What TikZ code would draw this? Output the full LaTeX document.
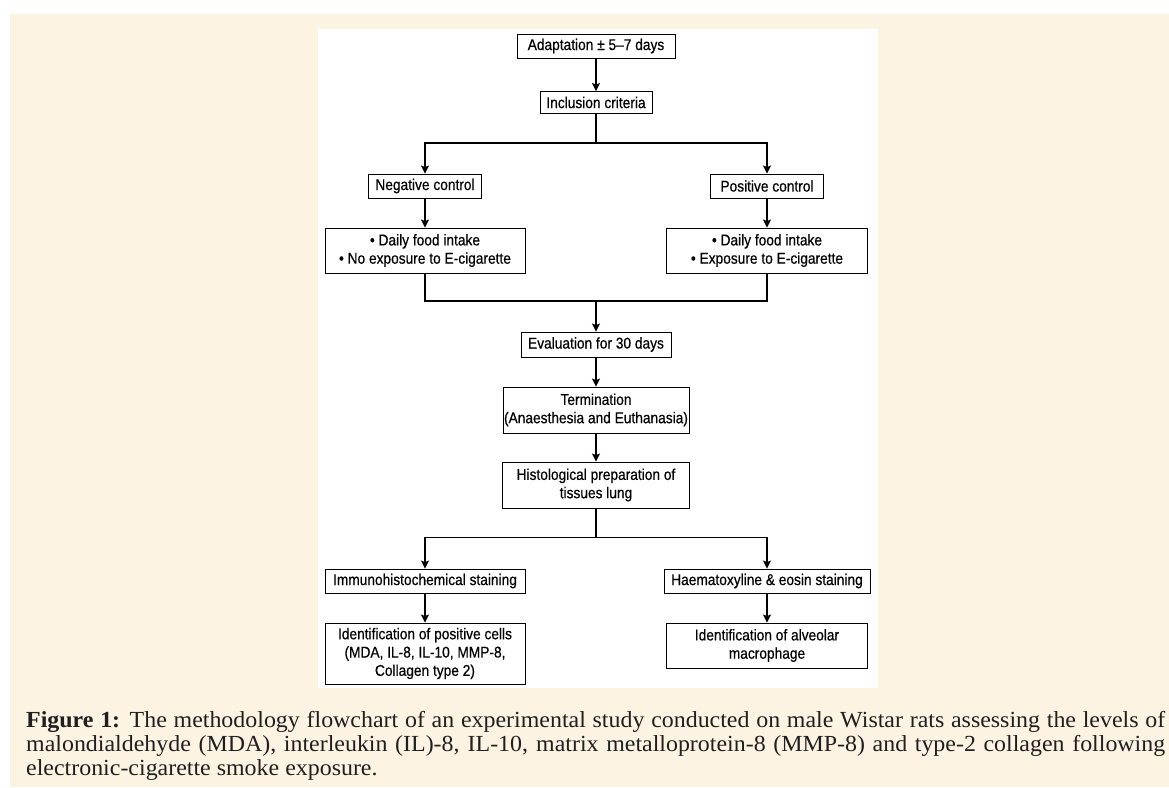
\documentclass[tikz,border=0pt]{standalone}
\usepackage{fontspec}
\setmainfont{Liberation Serif}[FakeStretch=1.04]
\newfontfamily\flowfont[FakeStretch=0.88, FakeBold=0.5]{Liberation Sans}
\usetikzlibrary{arrows.meta}
\definecolor{creambg}{RGB}{253,243,226}
\colorlet{captext}{black!88}

\begin{document}
\begin{tikzpicture}[x=1pt, y=-1pt, >={Stealth[length=8pt, width=8pt, inset=1.5pt]},
    box/.style={draw=black, line width=0.9pt, fill=white, align=center, inner sep=0pt,
      font=\flowfont\fontsize{15.6}{18.3}\selectfont},
    flow/.style={->, line width=1.6pt},
    plain/.style={line width=1.6pt}]
    \useasboundingbox (0,0) rectangle (1169,787);

    % Page background and white figure panel
    \fill[white] (0,0) rectangle (1169,787);
    \fill[creambg] (10,14) rectangle (1169,787);
    \fill[white] (318,29) rectangle (878,688);

    % Top of the chart
    \node[box, minimum width=158pt, minimum height=24pt] (adapt) at (596,46) {Adaptation ± 5–7 days};
    \node[box, minimum width=112pt, minimum height=22pt] (incl) at (596,102.5) {Inclusion criteria};

    % Two control arms
    \node[box, minimum width=113pt, minimum height=24pt] (neg) at (425,186) {Negative control};
    \node[box, minimum width=113pt, minimum height=24pt] (pos) at (767,186) {Positive control};
    \node[box, minimum width=200pt, minimum height=45pt] (negcare) at (425,250.5) {• Daily food intake\\• No exposure to E-cigarette};
    \node[box, minimum width=201pt, minimum height=45pt] (poscare) at (767,250.5) {• Daily food intake\\• Exposure to E-cigarette};

    % Common steps
    \node[box, minimum width=150pt, minimum height=25pt] (eval) at (596,344.5) {Evaluation for 30 days};
    \node[box, minimum width=186pt, minimum height=46pt] (term) at (596,410) {Termination\\(Anaesthesia and Euthanasia)};
    \node[box, minimum width=187pt, minimum height=46pt] (histo) at (596,485) {Histological preparation of\\tissues lung};

    % Staining arms
    \node[box, minimum width=200pt, minimum height=24pt] (immuno) at (425,581) {Immunohistochemical staining};
    \node[box, minimum width=206pt, minimum height=24pt] (haem) at (767,581) {Haematoxyline \& eosin staining};
    \node[box, minimum width=200pt, minimum height=61pt] (cells) at (425,653.5) {Identification of positive cells\\(MDA, IL-8, IL-10, MMP-8,\\Collagen type 2)};
    \node[box, minimum width=201pt, minimum height=45pt] (macro) at (767,645.5) {Identification of alveolar\\macrophage};

    % Branch and merge points
    \coordinate (fork) at (596,143);
    \coordinate (join) at (596,301);
    \coordinate (fork2) at (596,537.5);

    % Connectors
    \draw[flow] (adapt) -- (incl);
    \draw[plain] (incl) -- (fork);
    \draw[flow] (fork) -| (neg);
    \draw[flow] (fork) -| (pos);
    \draw[flow] (neg) -- (negcare);
    \draw[flow] (pos) -- (poscare);
    \draw[plain] (negcare) |- (join);
    \draw[plain] (poscare) |- (join);
    \draw[flow] (join) -- (eval);
    \draw[flow] (eval) -- (term);
    \draw[flow] (term) -- (histo);
    \draw[plain] (histo) -- (fork2);
    \draw[flow] (fork2) -| (immuno);
    \draw[flow] (fork2) -| (haem);
    \draw[flow] (immuno) -- (cells);
    \draw[flow] (haem) -- (macro);

    % Caption below the panel
    \node[anchor=base west, inner sep=0pt, text=captext] (caption) at (26,727) {\parbox[t]{1139pt}{\fontsize{23}{24}\selectfont
      \makebox[1139pt][s]{\textbf{Figure 1:} The methodology flowchart of an experimental study conducted on male Wistar rats assessing the levels of}\\
      \makebox[1139pt][s]{malondialdehyde (MDA), interleukin (IL)-8, IL-10, matrix metalloprotein-8 (MMP-8) and type-2 collagen following}\\
      electronic-cigarette smoke exposure.}};
\end{tikzpicture}
\end{document}
